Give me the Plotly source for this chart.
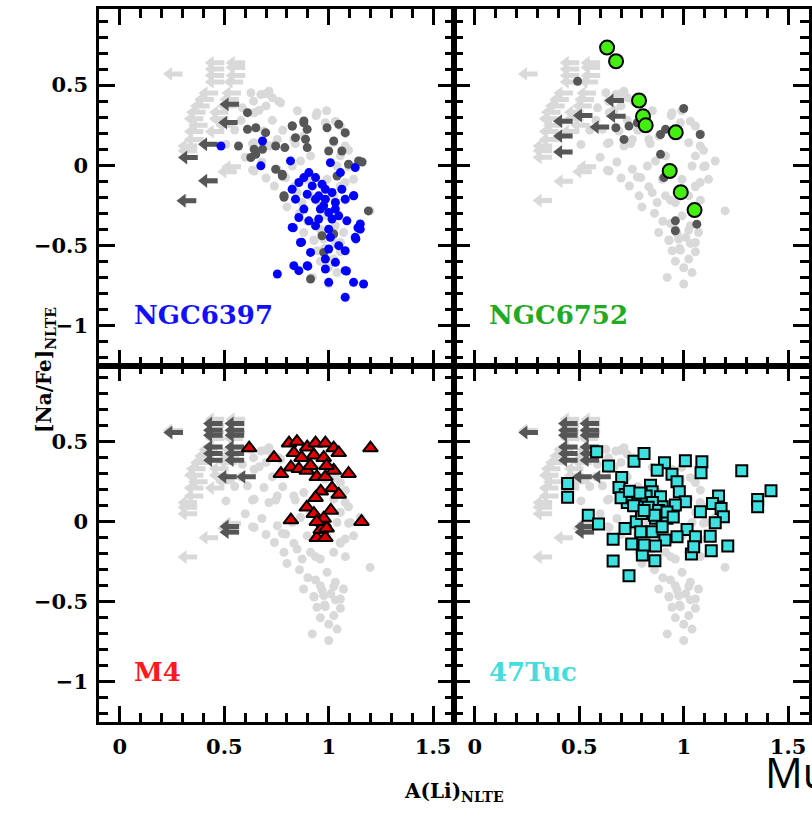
import numpy as np
import plotly.graph_objects as go
from plotly.subplots import make_subplots

# ---------------- data ----------------
# light-gray comparison sample (same in all panels): detections
LG_X = [0.627, 0.675, 0.714, 0.730, 0.587, 0.643, 0.611, 0.690, 0.508, 0.643, 0.714, 0.754, 0.833, 0.881,
        0.643, 0.754, 0.794, 0.826, 0.865, 0.913, 0.897, 0.786, 0.849, 0.873, 0.913, 0.944, 0.984, 1.032,
        1.056, 1.024, 1.079, 1.056, 1.103, 1.151, 1.040, 0.992, 1.079, 1.119, 1.056, 1.024, 0.960, 0.992,
        1.032, 1.071, 1.056, 0.976, 0.960, 0.944, 1.024, 0.921, 1.000, 1.198, 0.698, 0.667, 0.730, 0.780,
        0.635, 0.746, 0.840, 0.635, 0.778, 0.833, 0.937, 1.080, 1.056, 1.095, 1.095, 1.080, 0.760, 0.700,
        0.990, 0.940, 0.850, 0.770, 0.640, 0.580, 0.550, 0.600, 0.680, 0.700, 0.740, 0.800, 0.860, 0.900,
        0.880, 0.930, 0.960, 1.000, 1.040, 0.980, 1.010, 0.937, 0.968, 1.024, 1.032, 1.056, 0.929, 0.984]
LG_Y = [0.452, 0.441, 0.462, 0.421, 0.358, 0.327, 0.224, 0.213, 0.130, 0.141, 0.120, 0.161, 0.161, 0.182,
        -0.036, -0.025, -0.077, -0.005, 0.026, 0.058, -0.088, -0.191, -0.171, -0.233, -0.191, 0.327, 0.265, 0.275,
        0.245, 0.141, 0.120, 0.058, -0.005, 0.026, -0.005, -0.088, -0.108, -0.088, -0.129, -0.191, -0.233, -0.316,
        -0.378, -0.420, -0.482, -0.461, -0.399, -0.534, -0.586, -0.700, -0.741, -0.285, 0.446, 0.343, 0.280, 0.218,
        0.135, 0.135, 0.135, -0.031, -0.073, -0.135, -0.218, -0.218, -0.135, -0.010, 0.093, 0.197, 0.400, 0.370,
        0.340, 0.310, 0.340, 0.390, 0.400, 0.280, 0.220, 0.050, 0.020, -0.080, -0.130, -0.260, -0.300, -0.350,
        -0.420, -0.470, -0.600, -0.640, -0.670, -0.520, -0.450, -0.364, -0.426, -0.405, -0.488, -0.540, -0.467, -0.530]
# light-gray comparison sample: upper limits (arrows pointing to lower A(Li))
LG_LIM_X = [0.30, 0.50, 0.60, 0.50, 0.60, 0.50, 0.60, 0.50, 0.59, 0.47, 0.58, 0.45, 0.57, 0.43, 0.56,
            0.41, 0.52, 0.40, 0.52, 0.42, 0.55, 0.40, 0.50, 0.40, 0.37, 0.37, 0.37, 0.58, 0.56, 0.47, 0.37]
LG_LIM_Y = [0.57, 0.64, 0.64, 0.60, 0.61, 0.56, 0.56, 0.52, 0.52, 0.45, 0.45, 0.41, 0.41, 0.37, 0.37,
            0.33, 0.33, 0.29, 0.29, 0.25, 0.25, 0.21, 0.21, 0.16, 0.12, 0.09, 0.05, -0.01, -0.04, -0.10, -0.22]

# NGC6397 panel
NGC6397_DG_X = [0.611, 0.611, 0.651, 0.698, 0.568, 0.627, 0.651, 0.683, 0.746, 0.790, 0.746, 0.778, 0.786,
                0.881, 0.826, 0.897, 0.841, 0.889, 0.897, 0.825, 0.881, 0.992, 1.048, 1.079, 1.024, 1.000,
                1.063, 1.095, 1.143, 1.040, 0.778, 0.786, 1.190, 0.968, 1.024, 0.976, 0.913, 0.643, 1.160]
NGC6397_DG_Y = [0.328, 0.224, 0.234, 0.203, 0.120, 0.048, 0.068, 0.100, 0.120, 0.110, -0.025, -0.066, -0.190,
                0.276, 0.245, 0.224, 0.172, 0.162, 0.110, 0.245, 0.265, 0.234, 0.255, 0.203, 0.151, 0.089,
                0.089, 0.006, 0.027, -0.067, -0.056, -0.200, -0.285, -0.440, -0.430, -0.544, -0.710, 0.100, 0.020]
NGC6397_DG_LIM_X = [0.571, 0.564, 0.468, 0.373, 0.468, 0.365]
NGC6397_DG_LIM_Y = [0.380, 0.266, 0.131, 0.048, -0.097, -0.222]
NGC6397_X = [0.484, 0.683, 0.675, 0.817, 1.008, 1.056, 1.127, 0.905, 0.881, 0.937, 0.857, 0.921, 0.968, 0.984,
             0.825, 0.841, 0.897, 0.952, 1.016, 1.063, 1.079, 1.119, 1.032, 0.976, 0.881, 1.000, 1.048, 0.857,
             0.905, 0.937, 1.087, 1.151, 1.151, 0.825, 1.000, 1.008, 1.127, 0.865, 0.913, 1.000, 1.048, 1.079,
             0.984, 1.032, 0.897, 0.833, 0.857, 0.984, 1.079, 0.754, 1.000, 1.119, 1.167, 1.079, 0.937, 0.984,
             0.960, 1.032, 1.016, 0.952, 0.870, 0.830, 1.140, 1.130, 1.120, 0.900, 1.085]
NGC6397_Y = [0.120, 0.151, -0.004, 0.027, 0.016, -0.046, -0.015, -0.046, -0.077, -0.077, -0.108, -0.129, -0.119, -0.150,
             -0.150, -0.212, -0.181, -0.191, -0.170, -0.150, -0.212, -0.191, -0.233, -0.253, -0.274, -0.295, -0.316, -0.326,
             -0.347, -0.378, -0.347, -0.367, -0.399, -0.388, -0.399, -0.450, -0.450, -0.482, -0.544, -0.523, -0.502, -0.534,
             -0.585, -0.606, -0.627, -0.627, -0.658, -0.648, -0.658, -0.679, -0.731, -0.731, -0.741, -0.824, -0.212, -0.212,
             -0.274, -0.274, -0.336, -0.336, -0.480, -0.390, -0.390, -0.460, -0.190, -0.630, -0.660]

# NGC6752 panel
NGC6752_DG_X = [0.675, 0.714, 0.738, 0.778, 0.889, 0.913, 1.000, 1.079, 0.889, 0.905, 0.960, 0.960, 1.063, 0.492]
NGC6752_DG_Y = [0.234, 0.161, 0.244, 0.265, 0.192, 0.224, 0.354, 0.192, 0.068, -0.077, -0.347, -0.409, -0.368, 0.524]
NGC6752_DG_LIM_X = [0.468, 0.468, 0.468, 0.563, 0.714, 0.722, 0.643]
NGC6752_DG_LIM_Y = [0.275, 0.182, 0.083, 0.310, 0.404, 0.306, 0.238]
NGC6752_X = [0.633, 0.676, 0.786, 0.805, 0.818, 0.962, 0.933, 0.986, 1.052]
NGC6752_Y = [0.734, 0.649, 0.404, 0.305, 0.249, 0.205, -0.036, -0.168, -0.280]

# dark-gray upper limits shown in the M4 and 47Tuc panels
BOT_DG_LIM_X = [0.302, 0.492, 0.595, 0.492, 0.595, 0.492, 0.595, 0.492, 0.595, 0.492, 0.595, 0.492, 0.595,
                0.560, 0.651, 0.571, 0.571]
BOT_DG_LIM_Y = [0.557, 0.613, 0.613, 0.571, 0.571, 0.540, 0.540, 0.467, 0.467, 0.426, 0.426, 0.384, 0.384,
                0.280, 0.280, -0.030, -0.065]

# M4 panel
M4_X = [0.619, 0.738, 1.200, 1.095, 0.771, 0.819, 1.157, 0.943, 0.984, 0.810, 0.848, 0.897, 0.937, 0.984,
        1.024, 1.048, 0.833, 0.870, 0.929, 0.976, 0.819, 0.857, 0.895, 0.943, 0.984, 1.024, 0.913, 0.990,
        0.962, 1.016, 1.048, 0.937, 0.895, 0.929, 1.010, 0.976, 0.962, 0.990, 0.976, 0.943]
M4_Y = [0.460, 0.400, 0.460, 0.300, 0.300, 0.010, 0.000, -0.100, -0.100, 0.490, 0.500, 0.465, 0.490, 0.490,
        0.460, 0.430, 0.430, 0.400, 0.415, 0.400, 0.340, 0.330, 0.320, 0.280, 0.280, 0.320, 0.350, 0.350,
        0.190, 0.210, 0.170, 0.150, 0.090, 0.050, 0.070, -0.010, -0.050, -0.040, 0.020, 0.000]

# 47Tuc panel
TUC47_X = [0.583, 0.444, 0.444, 0.640, 0.762, 0.810, 0.703, 0.690, 0.908, 0.873, 1.008, 1.087, 1.083, 0.944,
           0.968, 0.979, 1.008, 1.278, 1.418, 1.354, 1.354, 1.167, 1.138, 1.179, 1.190, 1.151, 1.080, 0.543,
           0.592, 0.662, 0.719, 0.773, 0.798, 0.865, 0.920, 0.960, 1.016, 1.056, 1.127, 1.211, 1.132, 1.037,
           1.048, 0.968, 0.910, 0.865, 0.802, 0.862, 0.751, 0.810, 0.662, 0.738, 0.794, 0.849, 0.897, 0.841,
           0.849, 0.889, 0.897, 0.720, 0.750, 0.730, 0.780, 0.800, 0.760, 0.820, 0.700, 0.740, 0.790, 0.850,
           0.830, 0.880, 0.860, 0.810, 0.920, 0.950]
TUC47_Y = [0.436, 0.239, 0.152, 0.347, 0.378, 0.426, 0.276, 0.214, 0.368, 0.322, 0.380, 0.374, 0.305, 0.297,
           0.249, 0.187, 0.125, 0.318, 0.193, 0.139, 0.093, 0.160, 0.114, 0.083, 0.031, -0.006, 0.062, 0.041,
           -0.015, -0.110, -0.042, 0.000, 0.052, 0.021, 0.021, 0.104, -0.048, -0.094, -0.090, -0.152, -0.181, -0.201,
           -0.156, -0.094, -0.114, -0.152, -0.208, -0.243, -0.139, -0.145, -0.245, -0.337, -0.062, -0.062, -0.031, 0.228,
           0.187, 0.156, 0.093, 0.170, 0.150, 0.120, 0.140, 0.110, 0.100, 0.160, 0.150, 0.190, 0.180, 0.120,
           0.090, 0.070, 0.040, 0.070, 0.060, 0.030]

X_TICKS = [0, 0.5, 1, 1.5]
Y_TICKS = [-1, -0.5, 0, 0.5]
MINOR_STEP = 0.1
X_RANGE = [-0.1, 1.6]
Y_RANGE = [-1.25, 0.975]
PANEL_NAMES = ["NGC6397", "NGC6752", "M4", "47Tuc"]

# ---------------- styles ----------------
LIGHT = "#d9d9d9"
DARK = "#565656"
ARROW_LEN = 0.09
SERIF = "DejaVu Serif"

fig = make_subplots(rows=2, cols=2, horizontal_spacing=0, vertical_spacing=0)


def add_points(xs, ys, row, col, color, size=9, symbol="circle", line=None):
    marker = dict(color=color, size=size, symbol=symbol)
    marker["line"] = line if line else dict(width=0)
    fig.add_trace(go.Scatter(x=xs, y=ys, mode="markers", marker=marker,
                             showlegend=False, hoverinfo="skip"), row=row, col=col)


def add_limits(xs, ys, row, col, color):
    sx, sy, hx = [], [], []
    for x, y in zip(xs, ys):
        head = x - ARROW_LEN + 0.025
        sx += [head, x, None]
        sy += [y, y, None]
        hx.append(head)
    fig.add_trace(go.Scatter(x=sx, y=sy, mode="lines", line=dict(color=color, width=5),
                             showlegend=False, hoverinfo="skip"), row=row, col=col)
    fig.add_trace(go.Scatter(x=hx, y=ys, mode="markers",
                             marker=dict(symbol="triangle-left", size=12, color=color, line=dict(width=0)),
                             showlegend=False, hoverinfo="skip"), row=row, col=col)


cells = [(1, 1), (1, 2), (2, 1), (2, 2)]
for r, c in cells:
    add_limits(LG_LIM_X, LG_LIM_Y, r, c, LIGHT)
    add_points(LG_X, LG_Y, r, c, LIGHT)

# NGC6397
add_limits(NGC6397_DG_LIM_X, NGC6397_DG_LIM_Y, 1, 1, DARK)
add_points(NGC6397_DG_X, NGC6397_DG_Y, 1, 1, DARK)
add_points(NGC6397_X, NGC6397_Y, 1, 1, "#0000ff")
# NGC6752
add_limits(NGC6752_DG_LIM_X, NGC6752_DG_LIM_Y, 1, 2, DARK)
add_points(NGC6752_DG_X, NGC6752_DG_Y, 1, 2, DARK)
add_points(NGC6752_X, NGC6752_Y, 1, 2, "#44ee11", size=14, line=dict(color="black", width=2))
# M4
add_limits(BOT_DG_LIM_X, BOT_DG_LIM_Y, 2, 1, DARK)
add_points(M4_X, M4_Y, 2, 1, "#e00000", size=13, symbol="triangle-up", line=dict(color="black", width=2))
# 47Tuc
add_limits(BOT_DG_LIM_X, BOT_DG_LIM_Y, 2, 2, DARK)
add_points(TUC47_X, TUC47_Y, 2, 2, "#3ee0e0", size=11, symbol="square", line=dict(color="black", width=2))

tickfont = dict(family=SERIF, size=21, color="black", weight="bold")
common = dict(showline=True, linecolor="black", linewidth=2.5, mirror="ticks", ticks="inside",
              tickcolor="#000000", tickwidth=3, ticklen=16, showgrid=False, zeroline=False,
              ticklabelstandoff=4, layer="above traces")
minor = dict(dtick=MINOR_STEP, ticks="inside", ticklen=9, tickwidth=2.5, tickcolor="#000000")
for r, c in cells:
    fig.update_xaxes(range=X_RANGE, tickmode="linear", tick0=X_TICKS[0], dtick=X_TICKS[1] - X_TICKS[0],
                     tickfont=tickfont, showticklabels=(r == 2), minor=minor, row=r, col=c, **common)
    fig.update_yaxes(range=Y_RANGE, tickmode="linear", tick0=Y_TICKS[0], dtick=Y_TICKS[1] - Y_TICKS[0],
                     tickfont=tickfont, showticklabels=(c == 1), minor=minor, row=r, col=c, **common)

label_colors = ["#1010ff", "#22aa22", "#ff1a1a", "#44dddd"]
for i, ((r, c), name, col) in enumerate(zip(cells, PANEL_NAMES, label_colors), start=1):
    sfx = "" if i == 1 else str(i)
    fig.add_annotation(x=0.06, y=-0.935, xref="x" + sfx, yref="y" + sfx, text=name, showarrow=False,
                       xanchor="left", yanchor="middle",
                       font=dict(family=SERIF, size=26, color=col, weight="bold"))

fig.add_annotation(x=0.5, y=-0.098, xref="paper", yref="paper",
                   text="A(Li)<sub>NLTE</sub>", showarrow=False, xanchor="center", yanchor="middle",
                   font=dict(family=SERIF, size=20, color="black", weight="bold"))
fig.add_annotation(x=-0.0757, y=0.494, xref="paper", yref="paper",
                   text="[Na/Fe]<sub>NLTE</sub>", showarrow=False, textangle=-90,
                   xanchor="center", yanchor="middle",
                   font=dict(family=SERIF, size=20, color="black", weight="bold"))
fig.add_annotation(x=0.9355, y=-0.070, xref="paper", yref="paper", text="Mu", showarrow=False,
                   xanchor="left", yanchor="middle",
                   font=dict(family="Open Sans", size=42, color="black"))

fig.update_layout(width=812, height=814, margin=dict(l=99, r=0, t=9, b=92),
                  plot_bgcolor="white", paper_bgcolor="white")

fig.write_html("out.html")
